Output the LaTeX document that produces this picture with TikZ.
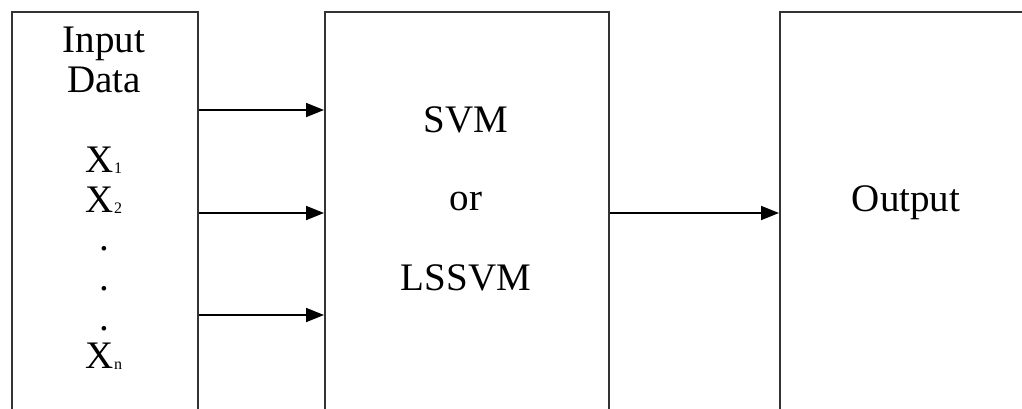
\documentclass[tikz,border=0pt]{standalone}
\usepackage{fontspec}
\setmainfont{Liberation Serif}
\usetikzlibrary{arrows.meta}
\newcommand{\sub}[1]{\raisebox{-1.5pt}{\fontsize{16}{16}\selectfont #1}}
\tikzset{
  block/.style={draw=black!80, line width=2pt, minimum height=440pt, anchor=north west, inner sep=0pt},
  lbl/.style={font=\fontsize{39}{40}\selectfont, anchor=base, inner sep=0pt},
  flow/.style={line width=1.8pt, -{Triangle[length=18pt,width=14pt]}}
}
\begin{document}
\begin{tikzpicture}[x=1pt,y=-1pt]
  \useasboundingbox (0,0) rectangle (1022,408);
  \clip (0,0) rectangle (1022,408);

  % three blocks, running past the bottom edge
  \node[block, minimum width=186pt] (in)  at (11,11)  {};
  \node[block, minimum width=284pt] (mid) at (324,11) {};
  \node[block, minimum width=280pt] (out) at (779,11) {};

  % input block text
  \node[lbl] (t1) at (104,52)  {Input};
  \node[lbl] (t2) at (104,92)  {Data};
  \node[lbl] (x1) at (104,172) {X\sub{1}};
  \node[lbl] (x2) at (104,212) {X\sub{2}};
  \node[lbl] (d1) at (104,250) {.};
  \node[lbl] (d2) at (104,290) {.};
  \node[lbl] (d3) at (104,330) {.};
  \node[lbl] (xn) at (104,368) {X\sub{n}};

  % model block text
  \node[lbl] (m1) at (466,132) {SVM};
  \node[lbl] (m2) at (466,210) {or};
  \node[lbl] (m3) at (466,290) {LSSVM};

  % output block text
  \node[lbl] (o1) at (906,211) {Output};

  % connector heights
  \coordinate (r1) at (0,110);
  \coordinate (r2) at (0,213);
  \coordinate (r3) at (0,315);

  \draw[flow] (in.east |- r1) -- (mid.west |- r1);
  \draw[flow] (in.east |- r2) -- (mid.west |- r2);
  \draw[flow] (in.east |- r3) -- (mid.west |- r3);
  \draw[flow] (mid.east |- r2) -- (out.west |- r2);
\end{tikzpicture}
\end{document}
